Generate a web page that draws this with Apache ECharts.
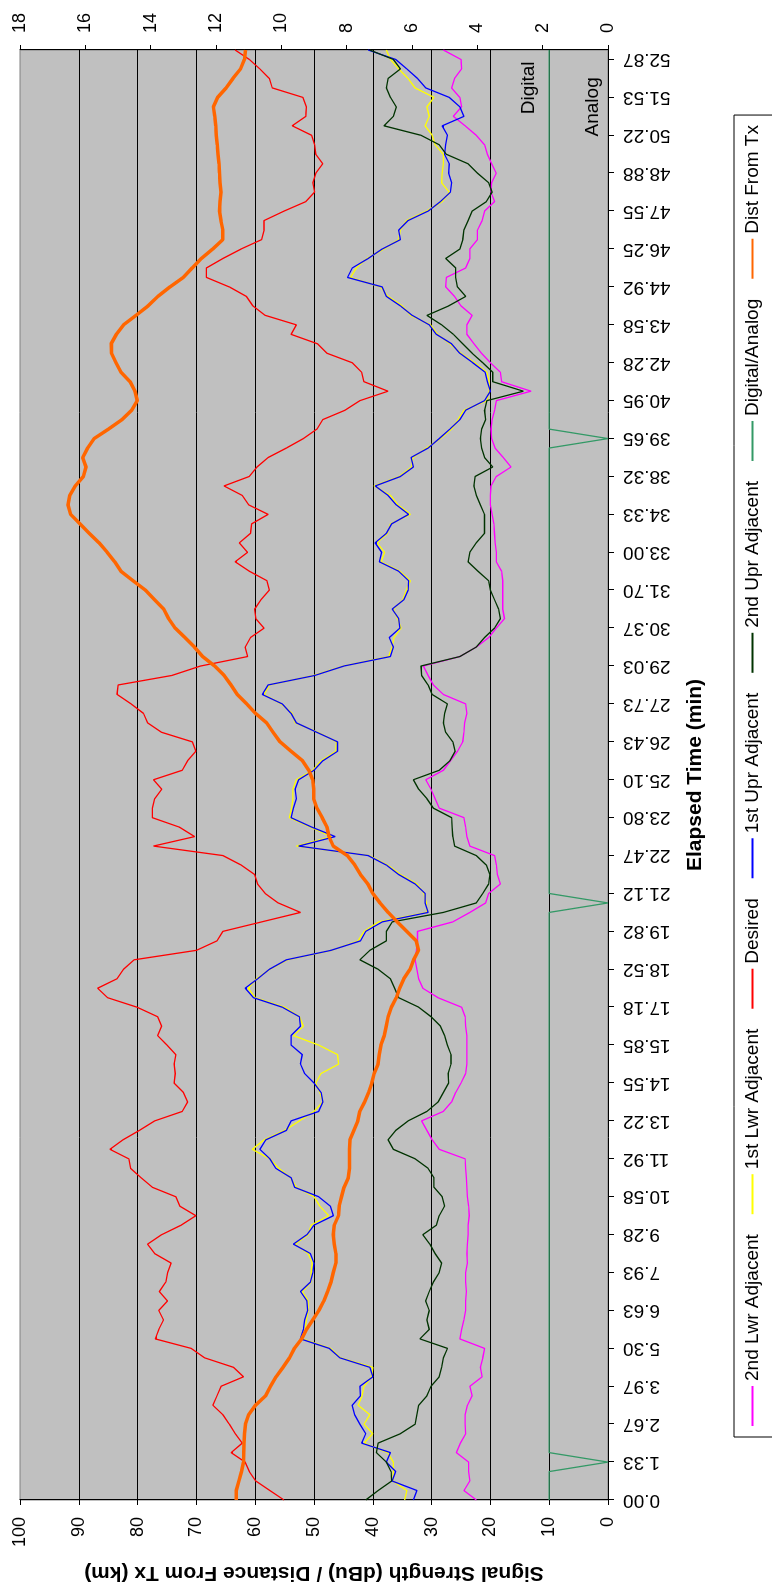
<!DOCTYPE html>
<html>
<head>
<meta charset="utf-8">
<script src="https://cdn.jsdelivr.net/npm/echarts@6/dist/echarts.min.js"></script>
<style>
html,body{margin:0;padding:0;background:#fff;overflow:hidden;width:772px;height:1585px;}
#chart{position:absolute;left:0;top:0;width:1585px;height:772px;transform-origin:0 0;transform:translateY(1585px) rotate(-90deg);}
</style>
</head>
<body>
<div id="chart"></div>
<script>
// Tick labels of the elapsed-time axis (one every 4 samples)
const timeLabels = ['0.00','1.33','2.67','3.97','5.30','6.63','7.93','9.28','10.58','11.92','13.22','14.55','15.85','17.18','18.52','19.82','21.12','22.47','23.80','25.10','26.43','27.73','29.03','30.37','31.70','33.00','34.33','38.32','39.65','40.95','42.28','43.58','44.92','46.25','47.55','48.88','50.22','51.53','52.87'];

// 2nd Lwr Adjacent (dBu)
const lwr2 = [22.4,24.5,23.5,23.7,23.7,25.8,25.1,24.2,24.3,24.3,
23.9,23.1,23.5,21.4,21.7,21.3,21.0,25.2,24.9,24.5,
24.2,24.2,24.1,24.2,24.2,23.9,24.0,23.9,23.8,23.8,
23.6,23.7,23.9,24.0,24.1,24.2,24.3,28.7,29.9,30.8,
31.7,28.0,26.6,25.9,25.0,24.2,24.0,24.0,24.0,24.0,
24.2,24.3,24.9,28.9,31.5,32.2,32.5,32.8,32.6,32.4,
32.4,26.4,23.5,20.8,20.3,18.3,18.8,19.0,19.3,23.5,
24.0,24.2,24.5,28.7,29.4,30.1,31.0,28.0,26.8,25.6,
24.7,24.5,24.4,24.0,24.2,28.0,29.7,30.6,31.4,25.2,
22.4,20.3,19.0,17.6,17.9,17.9,17.9,17.9,18.1,19.0,
19.0,19.2,19.3,19.4,19.7,20.0,20.0,19.9,19.0,16.5,
17.8,19.2,19.8,19.9,19.7,19.3,19.0,13.1,18.1,18.3,
20.0,21.5,22.8,24.0,24.0,23.1,25.0,26.1,27.6,27.5,
24.2,23.5,23.5,22.2,22.2,21.4,21.0,19.3,19.9,19.8,
19.0,19.8,20.5,21.0,22.4,24.3,26.3,24.9,25.2,26.6,
26.1,24.9,25.0,28.0];

// 1st Lwr Adjacent (dBu)
const lwr1 = [34.6,34.2,36.6,36.5,36.5,37.5,41.5,40.0,41.5,40.5,
42.5,41.8,41.5,40.2,40.0,45.5,47.2,52.0,51.5,51.3,
51.0,51.0,52.0,50.5,50.5,50.3,51.0,53.2,51.0,50.5,
47.5,49.0,50.0,53.0,54.0,56.0,57.5,60.5,58.5,55.0,
52.5,50.0,48.5,49.0,49.7,48.8,45.8,46.0,49.2,53.5,
51.8,52.5,55.0,60.0,61.2,59.8,57.5,54.5,47.0,42.5,
41.5,39.0,30.8,30.9,31.3,32.5,35.3,37.5,40.6,53.0,
47.0,50.6,54.2,53.8,53.6,53.6,53.0,50.2,48.8,46.3,
46.2,49.3,53.2,53.7,55.6,58.5,57.6,50.1,45.0,37.3,
36.7,36.4,35.2,35.8,36.5,34.9,34.3,33.6,35.4,38.6,
38.0,39.3,37.5,37.0,33.6,35.7,37.0,39.8,35.5,33.4,
33.2,30.9,28.5,26.6,25.5,24.5,20.6,20.2,20.2,20.6,
22.7,25.0,26.9,29.0,30.2,33.6,35.0,37.4,38.7,43.8,
42.8,41.0,38.1,35.6,35.3,34.3,30.9,28.2,27.0,28.3,
28.2,28.0,28.0,29.4,29.9,31.1,30.4,30.8,29.6,32.8,
34.0,35.6,37.0,37.7];

// Desired (dBu)
const desired = [55.1,57.5,59.9,61.0,61.7,64.1,62.2,63.4,64.4,65.5,
67.2,66.5,65.8,62.0,63.7,68.6,70.9,77.0,76.4,75.6,
76.4,74.9,76.3,75.2,74.9,74.3,77.1,78.3,75.9,72.6,
70.1,72.8,73.5,77.5,79.4,81.2,81.5,84.7,82.5,79.7,
77.1,72.4,71.5,72.2,73.8,73.6,73.8,73.5,75.0,76.6,
75.9,76.6,80.1,85.1,86.8,83.5,82.4,80.6,70.0,66.5,
65.5,58.9,52.3,56.1,58.3,59.6,60.1,62.4,65.5,77.3,
70.3,72.9,77.5,77.5,77.1,75.9,77.3,72.4,71.5,70.1,
70.7,75.9,78.3,79.0,81.1,83.5,83.3,74.2,69.3,61.3,
61.7,60.8,58.5,59.9,60.1,59.0,57.6,58.0,61.0,63.4,
61.3,62.7,60.8,60.6,57.8,61.1,62.2,65.3,61.0,59.7,
57.8,54.7,51.8,49.5,48.5,44.7,42.2,37.4,41.5,41.9,
43.5,47.8,49.4,53.9,53.0,58.3,60.4,61.5,64.4,68.3,
68.3,65.5,62.4,58.9,58.5,58.5,55.1,51.4,49.9,50.2,
49.7,48.5,49.7,49.9,50.4,53.7,51.4,51.3,51.9,57.1,
57.6,59.2,61.0,63.4];

// 1st Upr Adjacent (dBu)
const upr1 = [33.1,32.5,36.7,36.1,37.7,37.0,41.9,41.2,42.2,43.1,
43.5,42.1,42.2,40.0,40.5,45.6,47.4,52.3,51.8,51.6,
51.1,51.2,52.3,50.6,50.2,50.0,50.6,53.5,51.2,50.0,
46.7,47.2,49.2,53.3,53.9,56.5,57.5,59.2,58.2,54.7,
53.9,49.2,48.5,48.8,50.0,51.6,52.3,52.0,53.9,53.9,
52.3,52.5,55.4,60.3,61.7,59.6,57.6,54.7,47.1,42.1,
41.2,38.4,30.6,31.1,31.1,32.8,35.6,37.7,40.8,52.6,
46.4,50.4,53.9,53.5,53.0,53.2,52.6,50.0,48.5,46.0,
46.0,49.5,53.0,53.9,55.4,58.8,57.8,49.9,44.9,37.0,
36.5,37.2,35.4,35.6,36.7,34.7,34.0,33.9,35.6,38.9,
38.5,39.6,37.7,36.8,33.9,36.0,37.4,39.6,35.3,33.1,
33.5,30.6,28.7,26.9,25.2,24.2,21.0,20.0,20.5,20.9,
23.0,25.2,26.6,29.2,30.4,33.3,35.3,37.7,38.4,44.3,
43.5,40.8,38.4,35.3,35.6,34.0,30.6,28.5,26.8,26.6,
27.1,27.0,27.8,27.6,27.3,28.2,24.5,25.2,27.0,31.0,
32.4,34.2,36.1,40.8];

// 2nd Upr Adjacent (dBu)
const upr2 = [41.2,39.1,36.8,36.9,37.7,39.4,39.1,35.3,32.8,32.5,
32.2,30.8,30.1,28.7,28.3,28.0,27.3,32.0,30.4,30.8,
30.4,31.0,30.4,29.7,28.7,28.3,29.4,30.3,31.5,29.2,
28.7,27.8,28.2,29.6,29.6,30.6,32.8,36.5,37.4,36.1,
34.0,30.8,28.9,28.0,27.1,27.2,26.7,26.7,27.3,27.8,
28.5,30.1,32.2,35.6,36.3,37.0,39.1,42.2,40.5,37.7,
37.7,36.7,28.0,22.4,21.3,20.3,20.1,20.7,22.4,26.1,
26.4,26.5,26.6,29.7,30.8,32.2,33.1,28.7,26.9,26.0,
26.4,27.6,28.0,27.8,27.3,29.9,30.6,31.7,31.8,25.2,
22.4,21.0,19.3,18.3,18.6,19.3,20.0,20.3,22.1,23.8,
23.5,22.4,21.0,21.0,21.0,21.7,22.4,22.8,22.6,19.6,
21.0,21.5,21.7,21.5,20.8,21.0,20.6,14.4,19.6,19.6,
21.3,23.1,24.7,26.3,28.3,30.8,27.1,24.2,25.6,25.9,
25.9,27.6,25.2,24.7,24.5,23.8,23.1,20.7,19.7,20.3,
22.2,23.8,27.5,28.7,31.8,38.1,36.5,36.0,37.0,37.7,
37.4,35.3,36.5,40.5];

// Digital/Analog flag
const digitalAnalog = [10,10,10,10,0,10,10,10,10,10,
10,10,10,10,10,10,10,10,10,10,
10,10,10,10,10,10,10,10,10,10,
10,10,10,10,10,10,10,10,10,10,
10,10,10,10,10,10,10,10,10,10,
10,10,10,10,10,10,10,10,10,10,
10,10,10,0,10,10,10,10,10,10,
10,10,10,10,10,10,10,10,10,10,
10,10,10,10,10,10,10,10,10,10,
10,10,10,10,10,10,10,10,10,10,
10,10,10,10,10,10,10,10,10,10,
10,10,0,10,10,10,10,10,10,10,
10,10,10,10,10,10,10,10,10,10,
10,10,10,10,10,10,10,10,10,10,
10,10,10,10,10,10,10,10,10,10,
10,10,10,10];

// Dist From Tx (km)
const distKm = [11.38,11.38,11.3,11.22,11.16,11.15,11.14,11.13,11.1,11.0,
10.79,10.48,10.33,10.16,9.95,9.75,9.6,9.38,9.23,9.04,
8.85,8.7,8.58,8.48,8.41,8.33,8.33,8.38,8.41,8.38,
8.25,8.23,8.16,8.08,7.95,7.91,7.91,7.91,7.9,7.78,
7.66,7.6,7.45,7.33,7.23,7.16,7.04,7.0,6.95,6.85,
6.79,6.73,6.63,6.48,6.38,6.25,6.06,5.95,5.8,5.87,
6.16,6.45,6.73,6.98,7.2,7.35,7.58,7.75,7.98,8.41,
8.54,8.6,8.75,8.91,9.01,9.01,9.04,9.16,9.35,9.7,
10.04,10.25,10.45,10.79,11.06,11.35,11.54,11.75,12.04,12.41,
12.66,12.95,13.25,13.45,13.6,13.88,14.16,14.54,14.91,15.1,
15.33,15.58,15.88,16.16,16.45,16.53,16.48,16.31,16.06,15.98,
16.08,15.93,15.73,15.29,14.88,14.58,14.41,14.48,14.63,14.91,
15.06,15.2,15.21,15.05,14.83,14.45,14.08,13.78,13.41,13.0,
12.73,12.45,12.1,11.79,11.79,11.85,11.89,11.88,11.85,11.88,
11.89,11.91,11.94,11.96,11.99,12.01,12.04,12.08,11.95,11.69,
11.48,11.25,11.13,11.1];

const seriesNames = ['2nd Lwr Adjacent','1st Lwr Adjacent','Desired','1st Upr Adjacent','2nd Upr Adjacent','Digital/Analog','Dist From Tx'];

const FONT = '"Liberation Sans", Arial, Helvetica, sans-serif';
const SAMPLES_PER_LABEL = 4;
const categories = desired.map((_, i) => String(i));

const chart = echarts.init(document.getElementById('chart'), null, {renderer: 'canvas'});

function thin(name, data, color) {
  return {
    name, type: 'line', data, symbol: 'none', showSymbol: false,
    lineStyle: {color, width: 1.3}, itemStyle: {color},
    emphasis: {disabled: true}, animation: false
  };
}

const option = {
  animation: false,
  backgroundColor: '#ffffff',
  textStyle: {fontFamily: FONT},
  grid: {
    left: 85, right: 50, top: 20, bottom: 164,
    show: true, backgroundColor: '#c0c0c0', borderColor: '#808080', borderWidth: 1,
    containLabel: false, outerBoundsMode: 'none'
  },
  legend: {
    show: true, orient: 'horizontal', left: 148, top: 734,
    itemWidth: 40, itemHeight: 19, itemGap: 19,
    padding: [9, 10, 14, 10],
    borderColor: '#000', borderWidth: 1, backgroundColor: '#ffffff',
    itemStyle: {opacity: 0},
    textStyle: {fontSize: 19, color: '#000', fontFamily: FONT},
    data: seriesNames
  },
  xAxis: {
    type: 'category', boundaryGap: false, data: categories,
    name: 'Elapsed Time (min)', nameLocation: 'middle', nameGap: 77, nameMoveOverlap: false,
    nameTextStyle: {fontSize: 21, fontWeight: 'bold', color: '#000', fontFamily: FONT},
    axisLine: {show: true, lineStyle: {color: '#000', width: 1}},
    axisTick: {show: true, interval: SAMPLES_PER_LABEL - 1, length: 6, inside: false, lineStyle: {color: '#000'}},
    axisLabel: {
      show: true, interval: SAMPLES_PER_LABEL - 1, rotate: 90, margin: 15,
      fontSize: 19, color: '#000', fontFamily: FONT, hideOverlap: false,
      formatter: (v) => { const k = Number(v) / SAMPLES_PER_LABEL; return Number.isInteger(k) && timeLabels[k] !== undefined ? timeLabels[k] : ''; }
    },
    splitLine: {show: false}
  },
  yAxis: [
    {
      type: 'value', position: 'left', min: 0, max: 100, interval: 10,
      name: 'Signal Strength (dBu) / Distance From Tx (km)', nameLocation: 'middle', nameRotate: 90, nameGap: 62, nameMoveOverlap: false,
      nameTextStyle: {fontSize: 21, fontWeight: 'bold', color: '#000', fontFamily: FONT},
      axisLine: {show: true, lineStyle: {color: '#000', width: 1}},
      axisTick: {show: true, length: 5, inside: false, lineStyle: {color: '#000'}},
      axisLabel: {show: true, margin: 17, fontSize: 18, color: '#000', fontFamily: FONT},
      splitLine: {show: true, showMinLine: false, showMaxLine: false, lineStyle: {color: '#000', width: 1, type: 'solid'}}
    },
    {
      type: 'value', position: 'right', min: 0, max: 18, interval: 2,
      axisLine: {show: true, lineStyle: {color: '#000', width: 1}},
      axisTick: {show: true, length: 5, inside: false, lineStyle: {color: '#000'}},
      axisLabel: {show: true, margin: 17, fontSize: 18, color: '#000', fontFamily: FONT},
      splitLine: {show: false}
    }
  ],
  series: [
    thin(seriesNames[0], lwr2, '#ff00ff'),
    thin(seriesNames[1], lwr1, '#ffff00'),
    thin(seriesNames[2], desired, '#ff0000'),
    thin(seriesNames[3], upr1, '#0000ff'),
    thin(seriesNames[4], upr2, '#003300'),
    Object.assign(thin(seriesNames[5], digitalAnalog, '#339966'), {
      markPoint: {
        silent: true, symbol: 'circle', symbolSize: 0, animation: false,
        label: {show: true, position: 'inside', formatter: '{b}', color: '#000', fontSize: 19, fontFamily: FONT},
        data: [
          {name: 'Digital', coord: [149, 13.5]},
          {name: 'Analog', coord: [147, 2.6]}
        ]
      }
    }),
    {
      name: seriesNames[6], type: 'line', yAxisIndex: 1, data: distKm,
      symbol: 'none', showSymbol: false,
      lineStyle: {color: '#ff6600', width: 3.5}, itemStyle: {color: '#ff6600'},
      emphasis: {disabled: true}, animation: false, z: 3
    }
  ]
};

chart.setOption(option);
</script>
</body>
</html>
